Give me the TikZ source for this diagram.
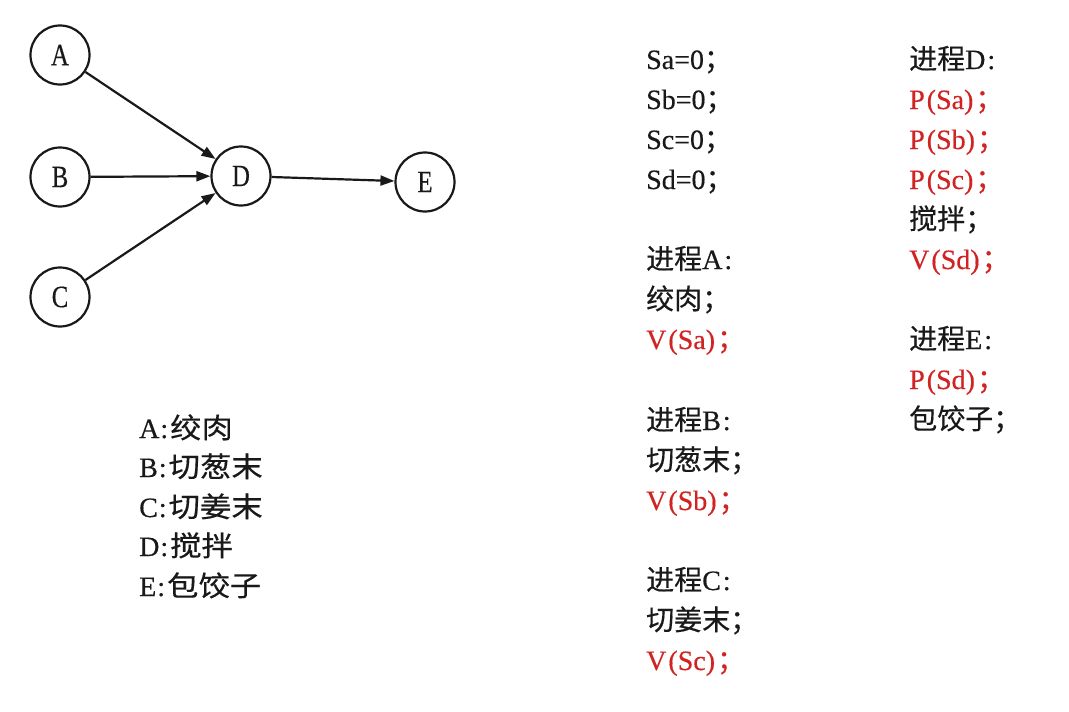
\documentclass[tikz,border=0pt]{standalone}
\usepackage{fontspec}
\usepackage{graphicx}
\setmainfont{Liberation Serif}[FakeBold=0.4]
\newfontfamily\zhfont{Noto Sans CJK SC}[FakeBold=0.4]
\usetikzlibrary{arrows.meta}
\definecolor{codered}{RGB}{210,35,35}
\definecolor{ink}{RGB}{25,25,25}
\newcommand\zh[1]{{\zhfont #1}}
\newcommand\pl{\kern2pt(}
\newcommand\pr{)\kern2pt}
\begin{document}
\begin{tikzpicture}[x=1pt,y=-1pt,
  vtx/.style={circle,draw=ink,line width=2.2pt,minimum size=59pt,inner sep=0pt,
    font=\fontsize{31}{31}\selectfont,text=ink},
  edge/.style={draw=ink,line width=2.2pt,-{Triangle[length=14pt,width=10pt]}},
  code/.style={anchor=base west,inner sep=0pt,font=\fontsize{28}{28}\selectfont,text=ink},
  redcode/.style={code,text=codered},
  legend/.style={anchor=base west,inner sep=0pt,font=\fontsize{28}{28}\selectfont,text=ink}]
\fill[white] (0,0) rectangle (1069,712);
\useasboundingbox (0,0) rectangle (1069,712);
% graph
\node[vtx] (A) at (60,55) {\scalebox{0.8}[1]{A}};
\node[vtx] (B) at (60,177) {\scalebox{0.8}[1]{B}};
\node[vtx] (C) at (60,297) {\scalebox{0.8}[1]{C}};
\node[vtx] (D) at (241,176) {\scalebox{0.8}[1]{D}};
\node[vtx] (E) at (425,182) {\scalebox{0.8}[1]{E}};
\draw[edge] (A) -- (D);
\draw[edge] (B) -- (D);
\draw[edge] (C) -- (D);
\draw[edge] (D) -- (E);
% legend
\node[legend] (l1) at (139,438) {A\kern1pt:\kern2pt\scalebox{1.12}[1]{\zh{绞肉}}};
\node[legend] (l2) at (139,477) {B\kern1pt:\kern2pt\scalebox{1.12}[1]{\zh{切葱末}}};
\node[legend] (l3) at (139,517) {C\kern1pt:\kern2pt\scalebox{1.12}[1]{\zh{切姜末}}};
\node[legend] (l4) at (139,556) {D\kern1pt:\kern2pt\scalebox{1.12}[1]{\zh{搅拌}}};
\node[legend] (l5) at (139,596) {E\kern1pt:\kern2pt\scalebox{1.12}[1]{\zh{包饺子}}};
% column 1
\node[code] (s1) at (646,69) {Sa=0\zh{；}};
\node[code] (s2) at (646,109) {Sb=0\zh{；}};
\node[code] (s3) at (646,149) {Sc=0\zh{；}};
\node[code] (s4) at (646,189) {Sd=0\zh{；}};
\node[code] (pa) at (646,269) {\zh{进程}A\kern2pt:};
\node[code] (pa1) at (646,309) {\zh{绞肉；}};
\node[redcode] (pa2) at (646,349) {V\pl Sa\pr\zh{；}};
\node[code] (pb) at (646,430) {\zh{进程}B\kern2pt:};
\node[code] (pb1) at (646,470) {\zh{切葱末；}};
\node[redcode] (pb2) at (646,510) {V\pl Sb\pr\zh{；}};
\node[code] (pc) at (646,590) {\zh{进程}C\kern2pt:};
\node[code] (pc1) at (646,630) {\zh{切姜末；}};
\node[redcode] (pc2) at (646,670) {V\pl Sc\pr\zh{；}};
% column 2
\node[code] (pd) at (909,69) {\zh{进程}D\kern2pt:};
\node[redcode] (pd1) at (909,109) {P\pl Sa\pr\zh{；}};
\node[redcode] (pd2) at (909,149) {P\pl Sb\pr\zh{；}};
\node[redcode] (pd3) at (909,189) {P\pl Sc\pr\zh{；}};
\node[code] (pd4) at (909,229) {\zh{搅拌；}};
\node[redcode] (pd5) at (909,269) {V\pl Sd\pr\zh{；}};
\node[code] (pe) at (909,349) {\zh{进程}E\kern2pt:};
\node[redcode] (pe1) at (909,389) {P\pl Sd\pr\zh{；}};
\node[code] (pe2) at (909,429) {\zh{包饺子；}};
\end{tikzpicture}
\end{document}
